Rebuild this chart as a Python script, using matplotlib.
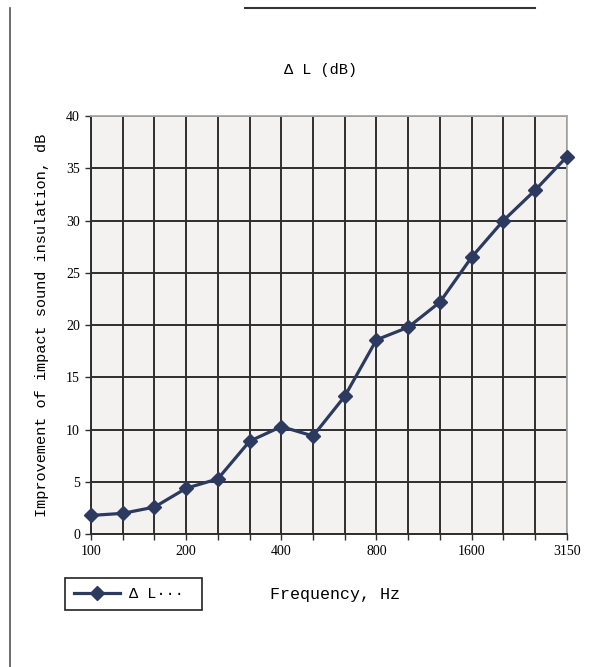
import matplotlib.pyplot as plt
from matplotlib.lines import Line2D

# データ
freqs = ["100", "125", "160", "200", "250", "315", "400", "500", "630",
         "800", "1000", "1250", "1600", "2000", "2500", "3150"]
delta_l = [1.8, 2.0, 2.6, 4.4, 5.3, 8.9, 10.3, 9.4, 13.2,
           18.6, 19.8, 22.2, 26.5, 30.0, 32.9, 36.1]
yticks = [0, 5, 10, 15, 20, 25, 30, 35, 40]

mono = "Liberation Mono"
serif = "Liberation Serif"
line_color = "#2b3a5e"
grid_color = "#2e2e2e"

fig = plt.figure(figsize=(5.91, 6.67), dpi=100)
ax = fig.add_axes([0.154, 0.199, 0.805, 0.627])
ax.set_facecolor("#f3f2f0")

x = list(range(len(freqs)))
ax.plot(x, delta_l, color=line_color, linewidth=2.3, marker="D", markersize=7,
        label="\u0394 L\u00b7\u00b7\u00b7 ", clip_on=False, zorder=5)

ax.set_xlim(0, len(freqs) - 1)
ax.set_ylim(0, 40)
ax.set_xticks(x)
ax.set_xticklabels([f if i % 3 == 0 else "" for i, f in enumerate(freqs)],
                   fontfamily=serif, fontsize=10)
ax.set_yticks(yticks)
ax.set_yticklabels([str(v) for v in yticks], fontfamily=serif, fontsize=10)
ax.tick_params(axis="both", length=4, width=1, color=grid_color, pad=4)

# グリッド
ax.grid(True, color=grid_color, linewidth=1.4)
ax.set_axisbelow(True)
for side in ["left", "bottom"]:
    ax.spines[side].set_color(grid_color)
    ax.spines[side].set_linewidth(1.4)
for side in ["top", "right"]:
    ax.spines[side].set_color("#aaaaaa")
    ax.spines[side].set_linewidth(1.3)

ax.set_ylabel("Improvement of impact sound insulation, dB",
              fontfamily=mono, fontsize=11, labelpad=12)
fig.text(0.543, 0.895, "\u0394 L (dB)", fontfamily=mono, fontsize=11,
         ha="center", va="center")
fig.text(0.567, 0.108, "Frequency, Hz", fontfamily=mono, fontsize=12,
         ha="center", va="center")

leg = fig.legend(loc="upper left", bbox_to_anchor=(0.097, 0.145),
                 prop={"family": mono, "size": 11}, fancybox=False,
                 edgecolor="#222222", framealpha=1, handlelength=3.0,
                 borderpad=0.6, handletextpad=0.6)
leg.get_frame().set_linewidth(1.2)

# 外枠
fig.add_artist(Line2D([0.017, 0.017], [0.0, 0.988], color="#555555",
                      linewidth=1.2, transform=fig.transFigure))
fig.add_artist(Line2D([0.415, 0.905], [0.988, 0.988], color="#333333",
                      linewidth=1.5, transform=fig.transFigure))

plt.savefig("out.png", dpi=100)
